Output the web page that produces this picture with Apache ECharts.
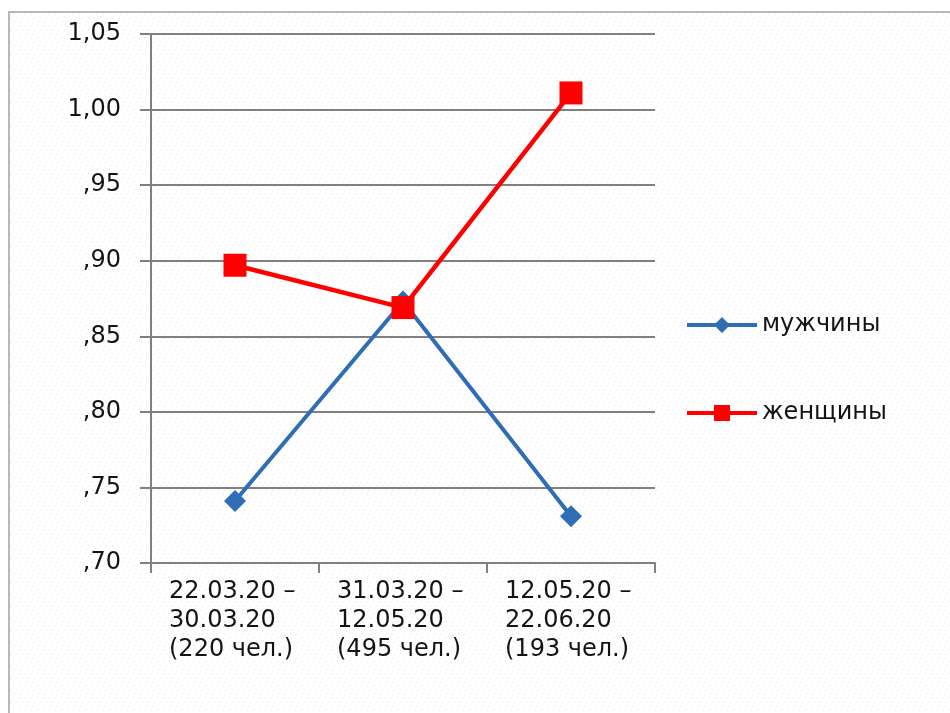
<!DOCTYPE html>
<html>
<head>
<meta charset="utf-8">
<script src="https://cdn.jsdelivr.net/npm/echarts@6/dist/echarts.min.js"></script>
<style>html,body{margin:0;padding:0;background:#fff}#c{width:950px;height:713px}</style>
</head>
<body>
<div id="c"></div>
<script>
var categories = ['22.03.20 –\n30.03.20\n(220 чел.)', '31.03.20 –\n12.05.20\n(495 чел.)', '12.05.20 –\n22.06.20\n(193 чел.)'];
var men = [0.741, 0.873, 0.731];
var women = [0.897, 0.869, 1.011];
var yTickValues = [0.70, 0.75, 0.80, 0.85, 0.90, 0.95, 1.00, 1.05];
var yTickLabels = [',70', ',75', ',80', ',85', ',90', ',95', '1,00', '1,05'];
var seriesNames = ['мужчины', 'женщины'];

// faint dotted background texture
var pc = document.createElement('canvas');
pc.width = 12; pc.height = 12;
var pctx = pc.getContext('2d');
pctx.fillStyle = '#ffffff'; pctx.fillRect(0, 0, 12, 12);
var dots = [[1,1,'#d8f3dc'],[7,2,'#f6dcf3'],[4,5,'#dfe6f8'],[10,6,'#d8f3dc'],[2,9,'#f6dcf3'],[8,10,'#e6e6e6']];
dots.forEach(function(d){ pctx.fillStyle = d[2]; pctx.fillRect(d[0], d[1], 1, 1); });

// legend icons: thick line with marker in the middle
var iconDiamond = 'path://M0,6L29,6L35,0L41,6L70,6L70,10L41,10L35,16L29,10L0,10Z';
var iconSquare = 'path://M0,6L27,6L27,0L43,0L43,6L70,6L70,10L43,10L43,16L27,16L27,10L0,10Z';

var chart = echarts.init(document.getElementById('c'), null, {renderer: 'canvas'});
var font = 'DejaVu Sans, Verdana, sans-serif';
var txt = '#141414';
chart.setOption({
  animation: false,
  backgroundColor: '#ffffff',
  textStyle: {fontFamily: font},
  graphic: [{
    type: 'rect', z: -10, silent: true,
    shape: {x: 9, y: 12, width: 960, height: 720},
    style: {fill: {image: pc, repeat: 'repeat'}, stroke: '#b4bcb4', lineWidth: 2}
  }],
  grid: {left: 151, right: 295, top: 34, bottom: 150, containLabel: false},
  legend: {
    orient: 'vertical', left: 687, top: 313, padding: 0,
    itemWidth: 70, itemHeight: 16, itemGap: 64,
    textStyle: {fontFamily: font, fontSize: 24, color: txt},
    data: [{name: seriesNames[0], icon: iconDiamond}, {name: seriesNames[1], icon: iconSquare}]
  },
  xAxis: {
    type: 'category', data: categories, boundaryGap: true,
    axisLine: {lineStyle: {color: '#808080', width: 2}},
    axisTick: {show: true, interval: 0, length: 10, lineStyle: {color: '#808080', width: 2}},
    axisLabel: {
      interval: 0, margin: 14, color: txt, fontFamily: font, fontSize: 24, lineHeight: 29,
      formatter: function (v) { return '{a|' + v.split('\n').join('}\n{a|') + '}'; },
      rich: {a: {width: 132, align: 'left', fontFamily: font, fontSize: 24, lineHeight: 29, color: txt}}
    },
    splitLine: {show: false}
  },
  yAxis: {
    type: 'value', min: 0.70, max: 1.05, interval: 0.05,
    axisLine: {show: true, lineStyle: {color: '#808080', width: 2}},
    axisTick: {show: true, length: 11, lineStyle: {color: '#808080', width: 2}},
    axisLabel: {
      margin: 30, color: txt, fontFamily: font, fontSize: 24,
      formatter: function (v) {
        for (var i = 0; i < yTickValues.length; i++) {
          if (Math.abs(yTickValues[i] - v) < 1e-6) return yTickLabels[i];
        }
        return '';
      }
    },
    splitLine: {show: true, lineStyle: {color: '#808080', width: 2}}
  },
  series: [{
    name: seriesNames[0], type: 'line', data: men,
    symbol: 'diamond', symbolSize: 22,
    lineStyle: {color: '#2f6db5', width: 4},
    itemStyle: {color: '#2f6db5'}
  }, {
    name: seriesNames[1], type: 'line', data: women,
    symbol: 'rect', symbolSize: 23,
    lineStyle: {color: '#ff0000', width: 4.5},
    itemStyle: {color: '#ff0000'}
  }]
});
</script>
</body>
</html>
